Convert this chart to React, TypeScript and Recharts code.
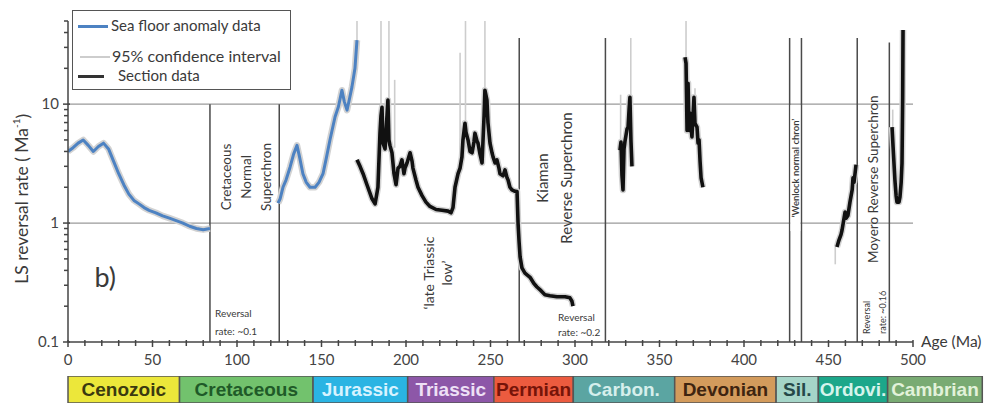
import { ComposedChart, Line, XAxis, YAxis, ReferenceLine, ReferenceDot, BarChart, Bar } from 'recharts';

const FONT = 'Lato, "Liberation Sans", sans-serif';
const INK = '#3a3a3a';

// axis ticks
const xTicks = [0, 10, 20, 30, 40, 50, 60, 70, 80, 90, 100, 110, 120, 130, 140, 150, 160, 170, 180, 190, 200, 210, 220, 230, 240, 250, 260, 270, 280, 290, 300, 310, 320, 330, 340, 350, 360, 370, 380, 390, 400, 410, 420, 430, 440, 450, 460, 470, 480, 490, 500];
const xLabels = [0, 50, 100, 150, 200, 250, 300, 350, 400, 450, 500];
const yTicks = [0.1, 0.2, 0.3, 0.4, 0.5, 0.6, 0.7, 0.8, 0.9, 1, 2, 3, 4, 5, 6, 7, 8, 9, 10, 20, 30, 40, 50];
const yLabels = [0.1, 1, 10];

// sea floor anomaly data [age Ma, rate per Ma]
const seaFloorCenozoic = [
  [0, 4.0], [3, 4.3], [6, 4.7], [9, 5.0], [12, 4.5], [15, 4.0], [18, 4.4], [21, 4.7], [24, 4.2], [27, 3.3],
  [30, 2.6], [33, 2.1], [36, 1.75], [39, 1.55], [42, 1.45], [45, 1.35], [48, 1.28], [52, 1.22], [56, 1.15],
  [60, 1.1], [64, 1.05], [68, 1.0], [72, 0.94], [76, 0.9], [80, 0.88], [84, 0.9],
];
const seaFloorMesozoic = [
  [124.3, 1.47], [125.5, 1.6], [127.2, 2.0], [129, 2.3], [131.4, 2.95], [133.5, 3.8], [135.5, 4.5], [137, 3.6],
  [139, 2.6], [141, 2.2], [143.2, 2.0], [146.2, 2.0], [148.5, 2.2], [150.9, 2.6], [153, 3.6], [155, 5.0],
  [158, 7.8], [160, 9.5], [162.1, 13.1], [163.5, 10.5], [165.1, 8.9], [166.5, 11], [168, 13.9], [169.8, 20], [171, 34.5],
];

// section data
const sectionMesozoic = [
  [171, 3.4], [172.8, 3.0], [174.6, 2.6], [176.9, 2.1], [179.9, 1.6], [181.7, 1.45], [183.4, 2.0], [184.6, 5.7],
  [185.2, 8.0], [185.8, 9.4], [186.4, 4.7], [187.6, 4.2], [189.3, 10.8], [189.9, 5.0], [190.5, 4.5], [191.7, 3.9],
  [192.9, 2.6], [194.1, 2.1], [195.3, 2.9], [196.4, 3.0], [197.6, 3.4], [198.8, 2.6], [199.4, 2.9], [200.6, 3.2],
  [202.4, 3.9], [203.6, 3.3], [204.1, 2.9], [205.9, 2.3], [207.1, 2.0], [209.5, 1.7], [211.8, 1.5], [214.2, 1.38],
  [217.8, 1.3], [221.3, 1.28], [224.9, 1.26], [226.6, 1.22], [227.8, 1.35], [229, 2.0], [230.8, 2.6], [232, 2.9],
  [233.1, 3.6], [233.7, 5.0], [234.9, 6.9], [235.5, 5.8], [236.7, 5.0], [237.9, 4.0], [239.1, 3.9], [240.2, 4.8],
  [240.8, 5.7], [242, 4.9], [242.6, 4.7], [243.8, 3.8], [245, 3.2], [246.2, 8], [246.7, 13.1], [247.9, 10.8],
  [248.5, 7], [249.7, 4.7], [250.9, 3.9], [251.5, 3.6], [252.7, 3.2], [253.8, 3.4], [255, 2.9], [255.6, 2.6],
  [257.4, 2.5], [258.6, 2.8], [259.8, 2.4], [260.4, 2.3], [261.5, 2.0], [262.7, 1.9], [264.5, 1.85], [265.7, 1.84],
  [266.3, 1.0], [266.9, 0.7], [267.5, 0.52], [268.6, 0.42], [270.4, 0.38], [273.4, 0.35], [275.7, 0.31],
  [277.5, 0.29], [279.9, 0.27], [282.2, 0.25], [285.2, 0.245], [289.3, 0.24], [294.1, 0.24], [297, 0.235],
  [298.2, 0.22], [298.8, 0.2],
];
const sectionCarboniferous = [
  [326.6, 4.1], [327.2, 4.8], [327.8, 2.5], [328.4, 1.9], [329.0, 4.2], [329.6, 4.9], [330.2, 5.5], [330.8, 6.2],
  [331.4, 6.4], [332.0, 9.0], [332.5, 11.4], [333.1, 5.0], [333.7, 3.0],
];
const sectionDevonian = [
  [365.1, 24.8], [365.7, 22], [366.3, 6.0], [366.9, 15], [367.5, 6.0], [368.0, 8.4], [369.2, 5.3], [370.4, 11.4],
  [371.0, 6.9], [372.2, 6.4], [372.8, 4.7], [373.4, 5.0], [374.0, 3.3], [374.6, 2.4], [375.7, 2.0],
];
const sectionOrdovician = [
  [455.0, 0.63], [456.2, 0.72], [457.4, 0.8], [458.0, 0.87], [459.8, 1.24], [460.4, 1.1], [461.5, 1.16],
  [462.7, 1.5], [464.0, 1.9], [464.5, 2.4], [465.1, 2.2], [466.3, 3.1],
];
const sectionCambrian = [
  [487.6, 6.4], [488.2, 4.4], [489.3, 2.3], [490.0, 1.7], [490.5, 1.5], [491.7, 1.5], [492.3, 1.66],
  [493.0, 2.2], [493.5, 3.2], [493.9, 11.4], [494.1, 42],
];

// 95% confidence interval spikes [age, low, high]
const ciSpikes = [
  [171, 30, 50], [185.2, 4, 50], [189.9, 4, 50], [193.3, 4.3, 16], [232, 3, 27], [235.2, 6, 50], [246.7, 12, 50],
  [327, 4, 12], [333, 8, 36], [365.7, 20, 50], [371, 6, 13.6], [454, 0.45, 0.65], [488, 5, 9],
];

// superchron / chron boundaries [age, top rate]
const chronBounds = [[84, 10], [125, 10], [267, 36], [318, 36], [427, 36], [434, 36], [467, 36], [486, 33]];

// geological time scale
const periodNames = ['Cenozoic', 'Cretaceous', 'Jurassic', 'Triassic', 'Permian', 'Carbon.', 'Devonian', 'Sil.', 'Ordovi.', 'Cambrian'];
const periodBase = [0, 66, 145, 201, 252, 299, 359, 419, 444, 485, 541];
const periodFill = ['#ece73a', '#72c26d', '#2ab4e3', '#8d57a8', '#ec5b3f', '#5ba5a2', '#d39b5c', '#a5d5c8', '#1ca78a', '#79ab73'];
const periodText = ['#3b3a10', '#1f5a28', '#d8f3ff', '#eee0f6', '#761409', '#d6efec', '#3e2410', '#254848', '#d5f4ec', '#e2f2da'];

const pts = (pairs: number[][]) => pairs.map(([age, rate]) => ({ age, rate }));

const seaFloorSeries = [seaFloorCenozoic, seaFloorMesozoic].map(pts);
const sectionSeries = [sectionMesozoic, sectionCarboniferous, sectionDevonian, sectionOrdovician, sectionCambrian].map(pts);

const timeRow: Record<string, number | string> = { name: 'scale' };
periodNames.forEach((n, i) => {
  timeRow[n] = periodBase[i + 1] - periodBase[i];
});

type Note = {
  lines: string[];
  age: number;
  rate: number;
  size: number;
  rotate?: boolean;
  lh?: number;
  anchor?: 'start' | 'middle' | 'end';
  dx?: number;
  weight?: number;
  box?: number;
};

const notes: Note[] = [
  { lines: ['Cretaceous', 'Normal', 'Superchron'], age: 105.5, rate: 2.44, size: 13.5, rotate: true, lh: 20 },
  { lines: ['\u2018late Triassic', 'low\u2019'], age: 219, rate: 0.38, size: 14, rotate: true, lh: 18 },
  { lines: ['Kiaman', 'Reverse Superchron'], age: 288, rate: 2.39, size: 15, rotate: true, lh: 24 },
  { lines: ['\u2018Wenlock normal chron\u2019'], age: 430.4, rate: 2.9, size: 9.5, rotate: true, weight: 600, box: 126 },
  { lines: ['Moyero Reverse Superchron'], age: 476.3, rate: 2.34, size: 13.5, rotate: true },
  { lines: ['Reversal', 'rate: ~0.1'], age: 87, rate: 0.147, size: 10, anchor: 'start', lh: 18 },
  { lines: ['Reversal', 'rate: ~0.2'], age: 290, rate: 0.139, size: 10, anchor: 'start', lh: 15 },
  { lines: ['Reversal', 'rate: ~0.16'], age: 477.5, rate: 0.117, size: 9, rotate: true, anchor: 'start', lh: 16 },
  { lines: ['b)'], age: 22, rate: 0.35, size: 27 },
  { lines: ['Age (Ma)'], age: 500, rate: 0.1, size: 15.5, anchor: 'start', dx: 8 },
];

function renderNote(vb: any, n: Note) {
  const cx = vb.x + (vb.width || 0) / 2 + (n.dx || 0);
  const cy = vb.y + (vb.height || 0) / 2;
  const lh = n.lh || n.size * 1.2;
  const first = -((n.lines.length - 1) / 2) * lh;
  const transform = n.rotate ? `rotate(-90 ${cx} ${cy})` : undefined;
  return (
    <g transform={transform}>
      {n.box && <rect x={cx - n.box / 2} y={cy - 5} width={n.box} height={10} fill="#fff" />}
      <text x={cx} y={cy} textAnchor={n.anchor || 'middle'} fontSize={n.size} fontFamily={FONT} fontWeight={n.weight || 400} fill={INK}>
        {n.lines.map((l, i) => (
          <tspan key={l} x={cx} dy={i === 0 ? first + n.size * 0.35 : lh}>
            {l}
          </tspan>
        ))}
      </text>
    </g>
  );
}

const XTick = (props: any) => {
  const { x, y, payload } = props;
  const major = xLabels.includes(payload.value);
  return (
    <g>
      <line x1={x} y1={y - 2} x2={x} y2={y + (major ? 5 : 4)} stroke="#444" strokeWidth={1.5} />
      {major && (
        <text x={x} y={y + 23} textAnchor="middle" fontSize={15} fontFamily={FONT} fill="#444">
          {payload.value}
        </text>
      )}
    </g>
  );
};

const YTick = (props: any) => {
  const { x, y, payload } = props;
  const major = yLabels.includes(payload.value);
  return (
    <g>
      <line x1={x - (major ? 5 : 4)} y1={y} x2={x + (major ? 2 : 0)} y2={y} stroke="#444" strokeWidth={1.5} />
      {major && (
        <text x={x - 9} y={y + 5} textAnchor="end" fontSize={15} fontFamily={FONT} fill="#444">
          {payload.value}
        </text>
      )}
    </g>
  );
};

const PLOT_LEFT = 68;
const PLOT_RIGHT = 913;
const PX_PER_MA = (PLOT_RIGHT - PLOT_LEFT) / 500;

export default function App() {
  return (
    <div style={{ position: 'absolute', left: 0, top: 0, width: 995, height: 403, background: '#fff', overflow: 'hidden' }}>
      <div style={{ position: 'absolute', left: 0, top: 0 }}>
        <ComposedChart width={995} height={370} margin={{ top: 21, right: 995 - PLOT_RIGHT, bottom: 0, left: PLOT_LEFT - 30 }}>
          <XAxis
            dataKey="age"
            type="number"
            domain={[0, 500]}
            ticks={xTicks}
            interval={0}
            tickSize={0}
            tickMargin={0}
            tickLine={false}
            tick={<XTick />}
            height={28}
            stroke="#444"
            strokeWidth={1.5}
            allowDataOverflow
          />
          <YAxis
            type="number"
            scale="log"
            domain={[0.1, 50]}
            ticks={yTicks}
            interval={0}
            tickSize={0}
            tickMargin={0}
            tickLine={false}
            tick={<YTick />}
            width={30}
            stroke="#444"
            strokeWidth={1.5}
            allowDataOverflow
          />
          <ReferenceLine y={10} stroke="#9a9a9a" strokeWidth={1.2} />
          <ReferenceLine y={1} stroke="#9a9a9a" strokeWidth={1.2} />
          {ciSpikes.map(([age, lo, hi]) => (
            <ReferenceLine
              key={`ci-${age}`}
              segment={[{ x: age, y: lo }, { x: age, y: hi }]}
              stroke="#cdcdcd"
              strokeWidth={1.6}
              ifOverflow="visible"
            />
          ))}
          {chronBounds.map(([age, top]) => (
            <ReferenceLine
              key={`b-${age}`}
              segment={[{ x: age, y: 0.1 }, { x: age, y: top }]}
              stroke="#4a4a4a"
              strokeWidth={1.5}
            />
          ))}
          {[...seaFloorSeries, ...sectionSeries].map((d, i) => (
            <Line
              key={`halo-${i}`}
              data={d}
              dataKey="rate"
              type="linear"
              stroke="#d2d2d2"
              strokeWidth={6.5}
              dot={false}
              activeDot={false}
              isAnimationActive={false}
              strokeLinejoin="round"
            />
          ))}
          {seaFloorSeries.map((d, i) => (
            <Line
              key={`sf-${i}`}
              data={d}
              dataKey="rate"
              type="linear"
              stroke="#4d82c2"
              strokeWidth={3}
              dot={false}
              activeDot={false}
              isAnimationActive={false}
              strokeLinejoin="round"
            />
          ))}
          {sectionSeries.map((d, i) => (
            <Line
              key={`sec-${i}`}
              data={d}
              dataKey="rate"
              type="linear"
              stroke="#111"
              strokeWidth={3.6}
              dot={false}
              activeDot={false}
              isAnimationActive={false}
              strokeLinejoin="round"
            />
          ))}
          {notes.map((n) => (
            <ReferenceDot
              key={n.lines.join('|')}
              x={n.age}
              y={n.rate}
              r={0}
              fill="none"
              stroke="none"
              ifOverflow="visible"
              label={(p: any) => renderNote(p.viewBox, n)}
            />
          ))}
          <ReferenceDot
            x={0}
            y={1.6}
            r={0}
            fill="none"
            stroke="none"
            ifOverflow="visible"
            label={(p: any) => (
              <text
                x={p.viewBox.x - 46}
                y={p.viewBox.y}
                transform={`rotate(-90 ${p.viewBox.x - 46} ${p.viewBox.y})`}
                textAnchor="middle"
                dominantBaseline="central"
                fontSize={17.5}
                fontFamily={FONT}
                fill={INK}
              >
                LS reversal rate ( Ma
                <tspan dy={-6} fontSize={10}>-1</tspan>
                <tspan dy={6}>)</tspan>
              </text>
            )}
          />
        </ComposedChart>
      </div>

      <div
        style={{
          position: 'absolute',
          left: 72,
          top: 10,
          width: 219,
          height: 80,
          border: '1.5px solid #555',
          boxSizing: 'border-box',
          background: '#fff',
          fontFamily: FONT,
          fontSize: 15,
          color: INK,
        }}
      >
        <div style={{ position: 'absolute', left: 5, top: 14, width: 30, height: 3, background: '#4d82c2' }} />
        <div style={{ position: 'absolute', left: 38, top: 5, whiteSpace: 'nowrap' }}>Sea floor anomaly data</div>
        <div style={{ position: 'absolute', left: 7, top: 45, width: 30, height: 2, background: '#cdcdcd' }} />
        <div style={{ position: 'absolute', left: 39, top: 35, whiteSpace: 'nowrap', fontSize: 16 }}>95% confidence interval</div>
        <div style={{ position: 'absolute', left: 5, top: 64, width: 26, height: 3, background: '#333' }} />
        <div style={{ position: 'absolute', left: 45, top: 55, whiteSpace: 'nowrap' }}>Section data</div>
      </div>

      <div style={{ position: 'absolute', left: 0, top: 376 }}>
        <BarChart
          layout="vertical"
          width={995}
          height={27}
          data={[timeRow]}
          margin={{ top: 0, right: 995 - PLOT_LEFT - periodBase[periodBase.length - 1] * PX_PER_MA, bottom: 0, left: PLOT_LEFT }}
          barCategoryGap={0}
        >
          <XAxis type="number" hide domain={[0, periodBase[periodBase.length - 1]]} />
          <YAxis type="category" dataKey="name" hide />
          {periodNames.map((name, i) => (
            <Bar
              key={name}
              dataKey={name}
              stackId="t"
              fill={periodFill[i]}
              stroke="#555"
              strokeWidth={1.5}
              isAnimationActive={false}
              label={(p: any) => (
                <text
                  x={p.x + p.width / 2}
                  y={p.y + p.height / 2}
                  dy="0.36em"
                  textAnchor="middle"
                  fontSize={19}
                  fontWeight="bold"
                  fontFamily='"Liberation Sans", Arial, sans-serif'
                  fill={periodText[i]}
                >
                  {name}
                </text>
              )}
            />
          ))}
        </BarChart>
      </div>
    </div>
  );
}
